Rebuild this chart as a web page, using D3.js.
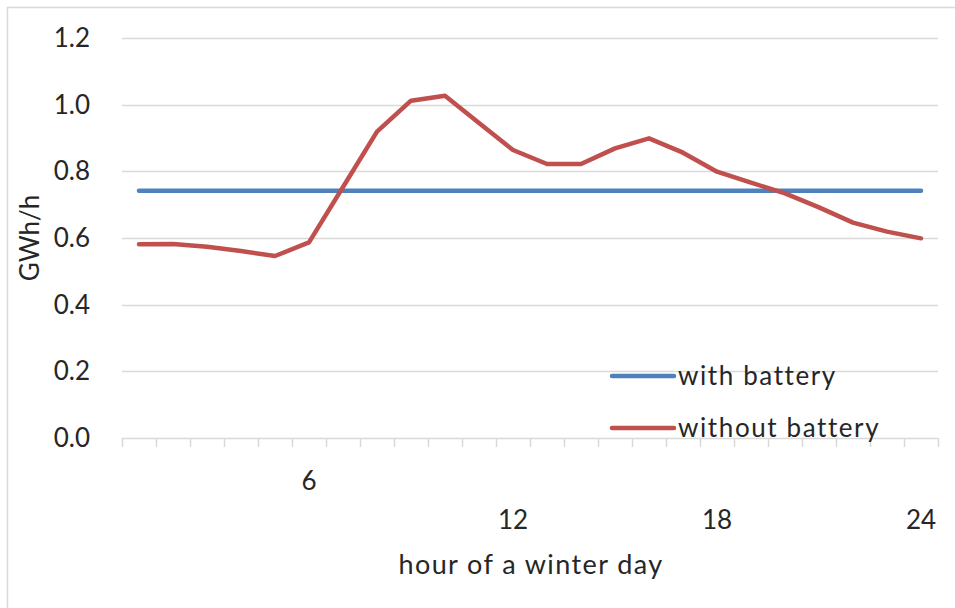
<!DOCTYPE html>
<html>
<head>
<meta charset="utf-8">
<script src="https://cdn.jsdelivr.net/npm/d3@7"></script>
<style>
  html, body { margin: 0; padding: 0; background: #fff; }
  svg { display: block; }
  text { font-family: Lato, "Noto Sans", sans-serif; fill: #262626; }
</style>
</head>
<body>
<svg id="chart" width="955" height="608"></svg>
<script>
// ---- data ----
const hours = d3.range(1, 25);
const withBattery = [0.742,0.742,0.742,0.742,0.742,0.742,0.742,0.742,0.742,0.742,0.742,0.742,
                     0.742,0.742,0.742,0.742,0.742,0.742,0.742,0.742,0.742,0.742,0.742,0.742];
const withoutBattery = [0.581,0.582,0.574,0.561,0.546,0.587,0.753,0.919,1.012,1.027,0.945,0.864,
                        0.822,0.822,0.869,0.899,0.856,0.799,0.766,0.734,0.692,0.646,0.619,0.599];
const yTicks = [0, 0.2, 0.4, 0.6, 0.8, 1.0, 1.2];
const xTickLabels = [6, 12, 18, 24];
const seriesNames = ["with battery", "without battery"];
const seriesColors = ["#4F81BD", "#C0504D"];
const yTitle = "GWh/h";
const xTitle = "hour of a winter day";

(function () {
// ---- layout ----
const svg = d3.select("#chart");
const pL = 122, pR = 938, pT = 38, pB = 438;

const x = d3.scaleBand().domain(hours).range([pL, pR]);
const cx = h => x(h) + x.bandwidth() / 2;
const y = d3.scaleLinear().domain([0, 1.2]).range([pB, pT]);

// outer border (right/bottom off canvas as in reference)
svg.append("rect").attr("x", 7.5).attr("y", 7.5).attr("width", 1000).attr("height", 1000)
  .attr("fill", "none").attr("stroke", "#d9d9d9").attr("stroke-width", 1.5);

// gridlines
svg.append("g").selectAll("line").data(yTicks.filter(v => v > 0)).join("line")
  .attr("x1", pL).attr("x2", pR)
  .attr("y1", d => Math.round(y(d)) + 0.5).attr("y2", d => Math.round(y(d)) + 0.5)
  .attr("stroke", "#d9d9d9").attr("stroke-width", 1.5);

// y tick labels
svg.append("g").selectAll("text").data(yTicks).join("text")
  .attr("x", 90).attr("y", d => y(d)).attr("dy", "0.35em")
  .attr("text-anchor", "end").style("font-size", "26px")
  .text(d => d.toFixed(1));

// x axis line + ticks between categories
svg.append("line").attr("x1", pL).attr("x2", pR)
  .attr("y1", pB + 0.5).attr("y2", pB + 0.5)
  .attr("stroke", "#d9d9d9").attr("stroke-width", 1.5);
const boundaries = hours.map(h => x(h)).concat([pR]);
svg.append("g").selectAll("line").data(boundaries).join("line")
  .attr("x1", d => Math.round(d) + 0.5).attr("x2", d => Math.round(d) + 0.5)
  .attr("y1", pB).attr("y2", pB + 9)
  .attr("stroke", "#d9d9d9").attr("stroke-width", 1.5);

// x tick labels (staggered as in reference)
svg.append("g").selectAll("text").data(xTickLabels).join("text")
  .attr("x", d => cx(d)).attr("y", (d, i) => i === 0 ? 481 : 520).attr("dy", "0.35em")
  .attr("text-anchor", "middle").style("font-size", "26px")
  .text(d => d);

// axis titles
svg.append("text").attr("transform", "translate(30," + ((pT + pB) / 2) + ") rotate(-90)")
  .attr("text-anchor", "middle").attr("dy", "0.35em").style("font-size", "26px").text(yTitle);
svg.append("text").attr("x", (pL + pR) / 2 + 1).attr("y", 565).attr("dy", "0.35em")
  .attr("text-anchor", "middle").style("font-size", "27px").style("letter-spacing", "1.4px").text(xTitle);

// lines
const line = d3.line().x((d, i) => cx(hours[i])).y(d => y(d));
[withBattery, withoutBattery].forEach((s, k) => {
  svg.append("path").datum(s).attr("d", line)
    .attr("fill", "none").attr("stroke", seriesColors[k])
    .attr("stroke-width", 4.5).attr("stroke-linecap", "round").attr("stroke-linejoin", "round");
});

// legend
const legY = [376, 428];
seriesNames.forEach((n, k) => {
  svg.append("line").attr("x1", 612).attr("x2", 674).attr("y1", legY[k]).attr("y2", legY[k])
    .attr("stroke", seriesColors[k]).attr("stroke-width", 4.5).attr("stroke-linecap", "round");
  svg.append("text").attr("x", 678).attr("y", legY[k]).attr("dy", "0.35em")
    .style("font-size", "26px").style("letter-spacing", "1.6px").text(n);
});
})();
</script>
</body>
</html>
